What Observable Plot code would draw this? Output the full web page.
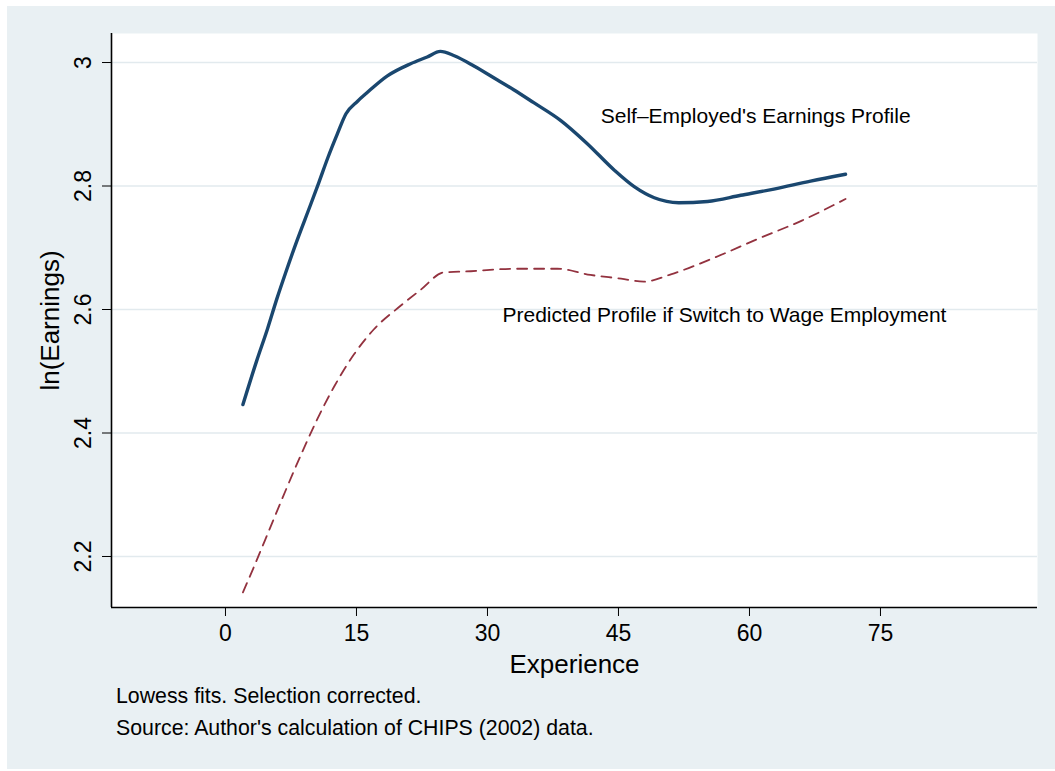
<!DOCTYPE html>
<html>
<head>
<meta charset="utf-8">
<script src="https://cdn.jsdelivr.net/npm/d3@7"></script>
<script src="https://cdn.jsdelivr.net/npm/@observablehq/plot@0.6"></script>
<style>
  html, body { margin: 0; padding: 0; background: #ffffff; }
  body { width: 1055px; height: 771px; position: relative; overflow: hidden;
         font-family: "Liberation Sans", Arial, Helvetica, sans-serif; }
  #panel { position: absolute; left: 7px; top: 6px; width: 1048px; height: 763px; background: #e9f0f3; }
  #chart { position: absolute; left: 0; top: 0; }
  .note { position: absolute; left: 109px; font-size: 21.3px; line-height: 21px; color: #000; white-space: nowrap; }
</style>
</head>
<body>
<div id="panel">
  <div id="chart"></div>
  <div class="note" style="top:680px">Lowess fits. Selection corrected.</div>
  <div class="note" style="top:712px">Source: Author's calculation of CHIPS (2002) data.</div>
</div>
<script>
// Lowess fit of log earnings on years of experience, self-employed workers
const selfExperience = [2, 3.6, 4.8, 5.9, 6.9, 8.2, 9.7, 10.7, 11.7, 12.8, 13.8, 15.1, 16.2, 18.5, 21.2, 23.1, 24.6, 26.2, 28.5, 31.1, 33, 35.3, 38.4, 41.4, 44.5, 46.8, 49.1, 51.9, 55.2, 59, 62.8, 67, 71];
const selfLnEarnings = [2.446, 2.518, 2.568, 2.618, 2.660, 2.712, 2.768, 2.806, 2.845, 2.884, 2.917, 2.937, 2.951, 2.978, 2.998, 3.009, 3.018, 3.011, 2.994, 2.972, 2.956, 2.935, 2.906, 2.869, 2.826, 2.799, 2.781, 2.773, 2.775, 2.785, 2.795, 2.808, 2.819];

// Predicted profile of the same workers under wage employment (selection corrected)
const wageExperience = [2, 3.25, 5.16, 7.07, 9.0, 10.5, 12.4, 14.7, 17.0, 20.05, 22.35, 25.0, 28.1, 33.0, 38.0, 41.8, 45.3, 47.9, 51.0, 56.0, 60.9, 66.0, 71];
const wageLnEarnings = [2.142, 2.183, 2.248, 2.313, 2.376, 2.422, 2.474, 2.527, 2.568, 2.606, 2.632, 2.660, 2.662, 2.666, 2.666, 2.656, 2.650, 2.645, 2.657, 2.684, 2.714, 2.744, 2.779];

// Axis ticks and in-plot annotations
const xTicks = [0, 15, 30, 45, 60, 75];
const yTicks = [2.2, 2.4, 2.6, 2.8, 3];
const annotationText = ["Self–Employed's Earnings Profile", "Predicted Profile if Switch to Wage Employment"];
const annotationX = [42.97, 31.72];
const annotationY = [2.9125, 2.5903];

const selfRows = selfExperience.map((x, i) => ({x, y: selfLnEarnings[i]}));
const wageRows = wageExperience.map((x, i) => ({x, y: wageLnEarnings[i]}));
const notes = annotationText.map((text, i) => ({text, x: annotationX[i], y: annotationY[i]}));

const xDomain = [-13.05, 92.98];
const yDomain = [2.1174, 3.047];

const chart = Plot.plot({
  width: 1048,
  height: 680,
  marginLeft: 104,
  marginRight: 18,
  marginTop: 27,
  marginBottom: 79,
  style: {
    fontFamily: "'Liberation Sans', Arial, Helvetica, sans-serif",
    fontSize: "23px",
    background: "transparent",
    color: "#000"
  },
  x: {domain: xDomain},
  y: {domain: yDomain},
  marks: [
    Plot.frame({fill: "white", stroke: "none"}),
    Plot.ruleY(yTicks, {stroke: "#e2eaee", strokeWidth: 1.3}),
    Plot.ruleX([xDomain[0]], {stroke: "#000", strokeWidth: 1.6}),
    Plot.ruleY([yDomain[0]], {stroke: "#000", strokeWidth: 1.6}),
    Plot.axisX({
      ticks: xTicks, tickSize: 9, tickPadding: 8, tickFormat: d3.format("d"),
      label: "Experience", labelAnchor: "center", labelArrow: "none", labelOffset: 65,
      fontSize: 23, color: "#000"
    }),
    Plot.axisY({
      ticks: yTicks, tickSize: 9, tickPadding: 12, tickRotate: -90, tickFormat: d => String(d),
      label: "ln(Earnings)", labelAnchor: "center", labelArrow: "none", labelOffset: 71,
      fontSize: 23, color: "#000"
    }),
    Plot.line(wageRows, {x: "x", y: "y", curve: "monotone-x", stroke: "#93323f", strokeWidth: 1.8, strokeDasharray: "10,7"}),
    Plot.line(selfRows, {x: "x", y: "y", curve: "monotone-x", stroke: "#1a476f", strokeWidth: 3.4}),
    Plot.text(notes, {x: "x", y: "y", text: "text", textAnchor: "start", lineAnchor: "middle", fontSize: 21, fill: "#000"})
  ]
});
chart.querySelectorAll("g[aria-label='y-axis label'] text, g[aria-label='x-axis label'] text").forEach(t => t.setAttribute("font-size", "26"));
document.getElementById("chart").appendChild(chart);
</script>
</body>
</html>
